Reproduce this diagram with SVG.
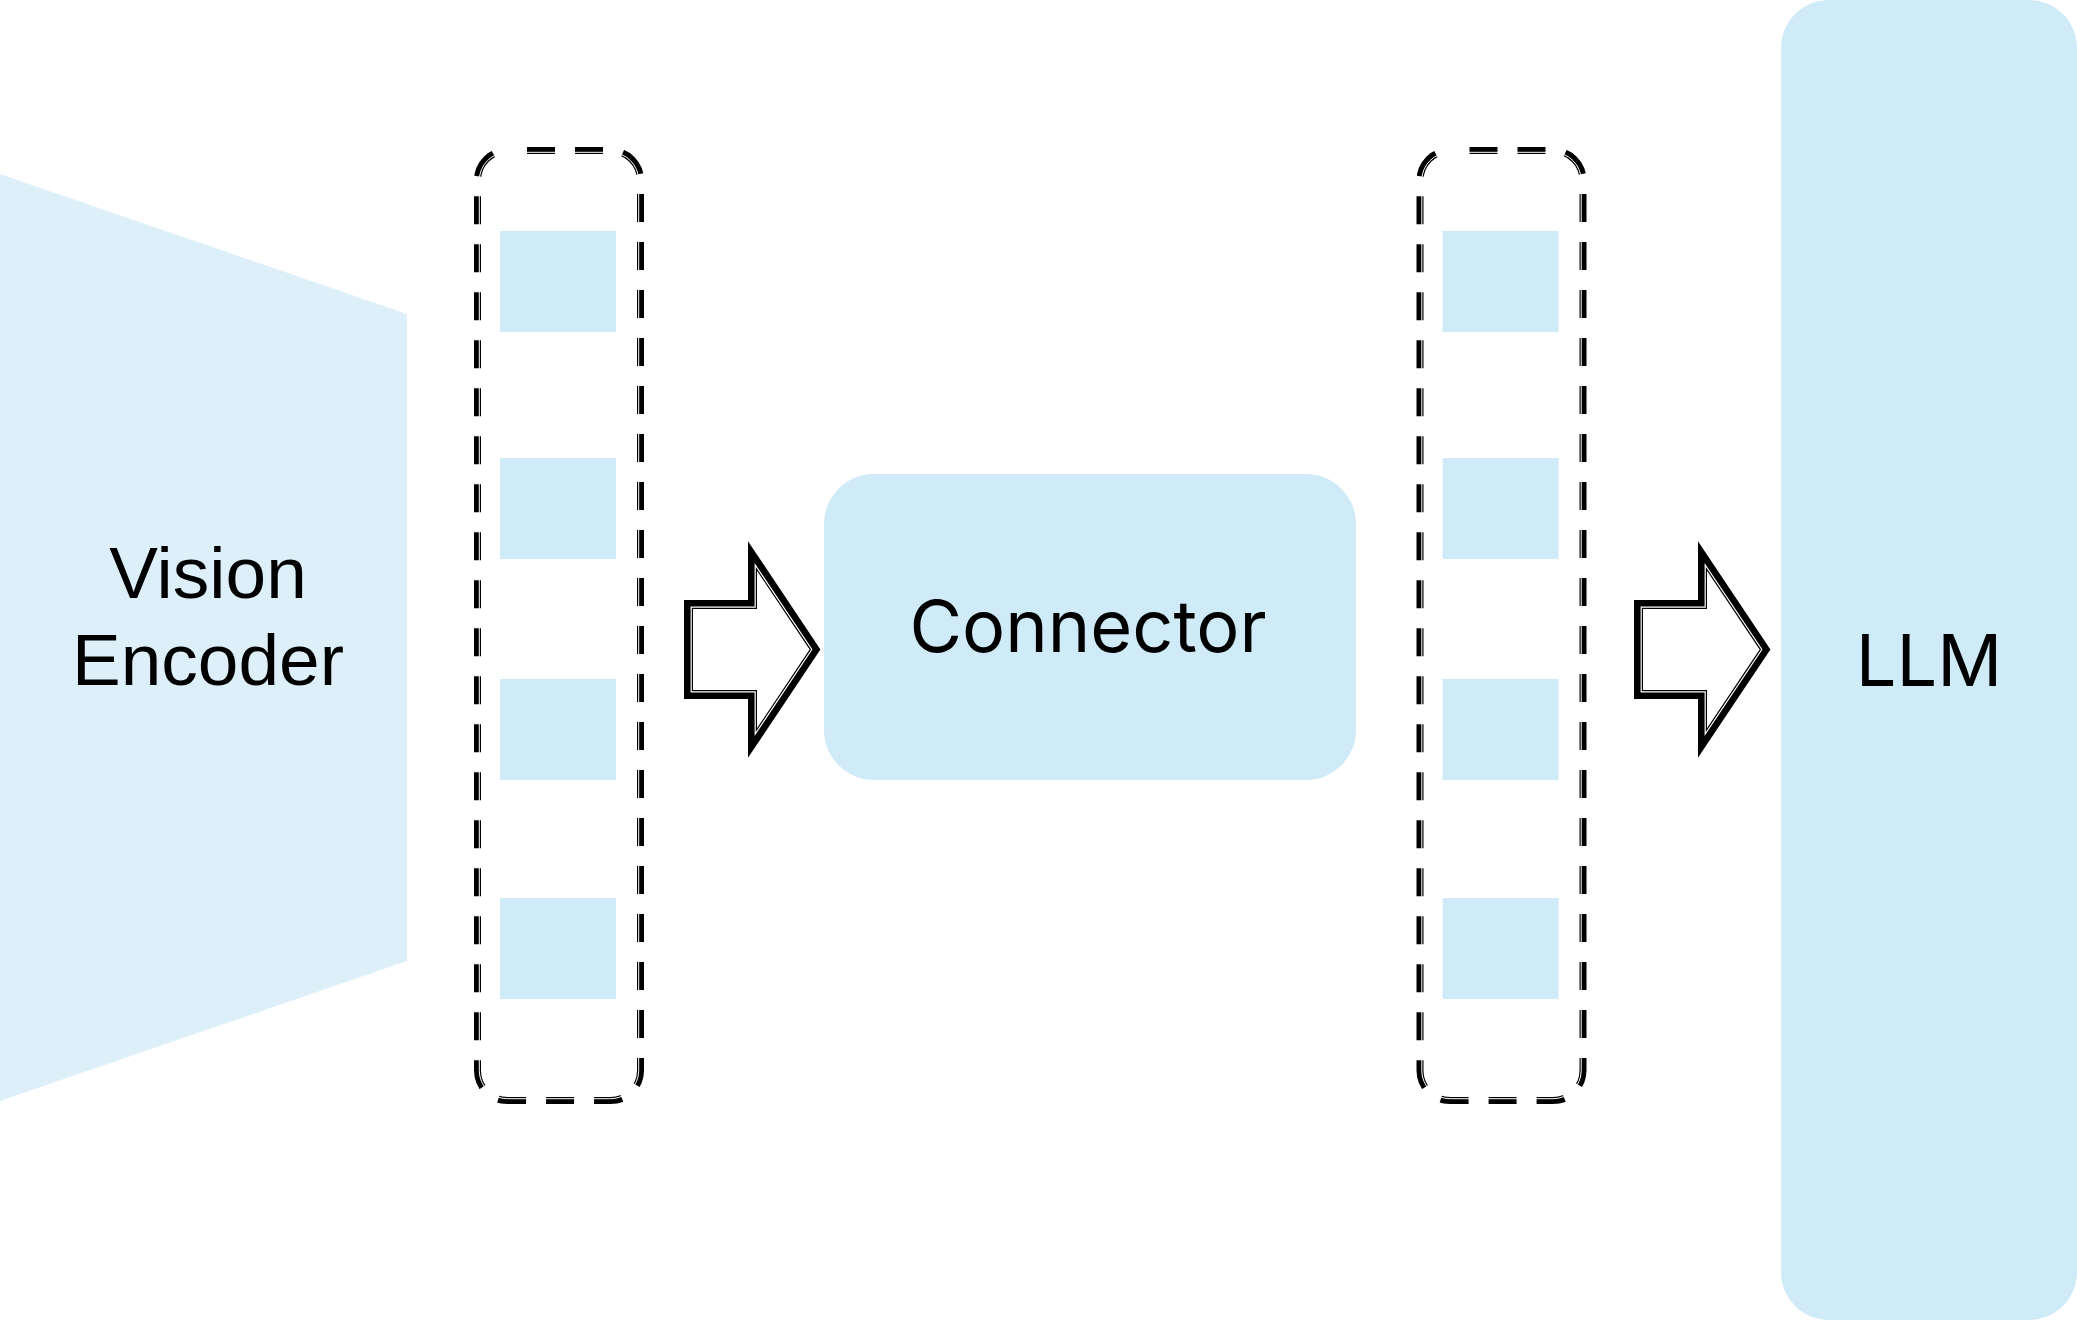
<svg xmlns="http://www.w3.org/2000/svg" width="2077" height="1320" viewBox="0 0 2077 1320">
<style>
.fill{fill:#CEEBF7}
.enc{fill:#DDF0FA}
.lbl{fill:#000;font-family:"Liberation Sans",Arial,sans-serif;font-size:73px}
.lbl2{fill:#000;font-family:Inter,"Liberation Sans",sans-serif;font-size:72px}
.blk{fill:none;stroke:#000;stroke-width:7}
.wht{fill:none;stroke:#fff;stroke-width:1}
.ablk{fill:#fff;stroke:#000;stroke-width:9;stroke-linejoin:miter;stroke-miterlimit:10}
.awht{fill:none;stroke:#fff;stroke-width:1.2;stroke-linejoin:miter}
</style>
<defs>
<mask id="dashmask" maskUnits="userSpaceOnUse" x="0" y="0" width="2077" height="1320">
<rect x="477.5" y="150.5" width="163" height="950" rx="30" fill="none" stroke="#fff" stroke-width="14" stroke-dasharray="28 20" stroke-dashoffset="28.5"/>
</mask>
<g id="dashbox">
<g mask="url(#dashmask)">
<rect class="blk" x="477.5" y="150.5" width="163" height="950" rx="30"/>
<rect class="wht" x="479.3" y="152.3" width="159.4" height="946.4" rx="28.2"/>
</g>
</g>
<g id="arrow">
<polygon class="ablk" points="688.5,604.5 752.5,604.5 752.5,556 815,649.5 752.5,743 752.5,694.5 688.5,694.5"/>
<polygon class="awht" points="691.2,607.2 755.2,607.2 755.2,564.9 811.8,649.5 755.2,734.1 755.2,691.8 691.2,691.8"/>
</g>
</defs>

<g id="vision-encoder">
<polygon class="enc" points="0,174 407,314 407,961 0,1101"/>
<text class="lbl" x="208" y="598" text-anchor="middle">Vision</text>
<text class="lbl" x="208" y="685" text-anchor="middle">Encoder</text>
</g>

<g id="tokens-in">
<use href="#dashbox"/>
<rect class="fill" x="500" y="231" width="116" height="101"/>
<rect class="fill" x="500" y="458" width="116" height="101"/>
<rect class="fill" x="500" y="679" width="116" height="101"/>
<rect class="fill" x="500" y="898" width="116" height="101"/>
</g>

<g id="connector">
<rect class="fill" x="824" y="474" width="532" height="306" rx="50"/>
<text class="lbl2" x="1088" y="652" text-anchor="middle">Connector</text>
</g>

<g id="tokens-out" transform="translate(942.5,0)">
<use href="#dashbox"/>
<rect class="fill" x="500" y="231" width="116" height="101"/>
<rect class="fill" x="500" y="458" width="116" height="101"/>
<rect class="fill" x="500" y="679" width="116" height="101"/>
<rect class="fill" x="500" y="898" width="116" height="101"/>
</g>

<g id="llm">
<rect class="fill" x="1781" y="0" width="296" height="1320" rx="48"/>
<text class="lbl2" x="1929" y="686" text-anchor="middle">LLM</text>
</g>

<g id="connectors">
<use href="#arrow"/>
<use href="#arrow" transform="translate(950,0)"/>
</g>
</svg>
